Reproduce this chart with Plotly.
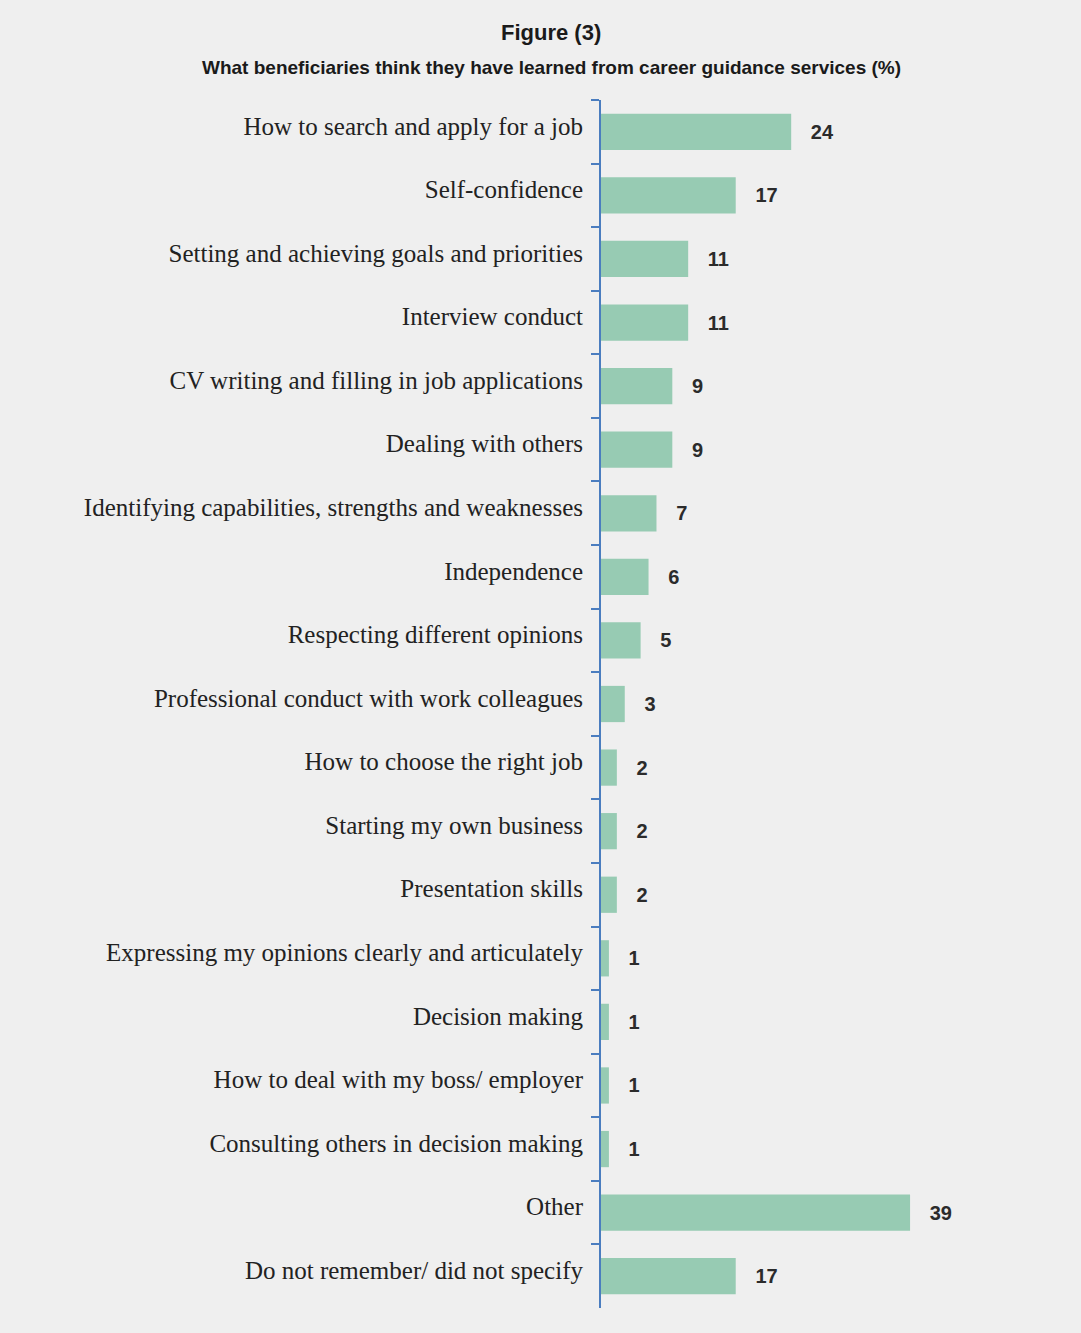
import plotly.graph_objects as go

categories = [
    "How to search and apply for a job",
    "Self-confidence",
    "Setting and achieving goals and priorities",
    "Interview conduct",
    "CV writing and filling in job applications",
    "Dealing with others",
    "Identifying capabilities, strengths and weaknesses",
    "Independence",
    "Respecting different opinions",
    "Professional conduct with work colleagues",
    "How to choose the right job",
    "Starting my own business",
    "Presentation skills",
    "Expressing my opinions clearly and articulately",
    "Decision making",
    "How to deal with my boss/ employer",
    "Consulting others in decision making",
    "Other",
    "Do not remember/ did not specify",
]
values = [24, 17, 11, 11, 9, 9, 7, 6, 5, 3, 2, 2, 2, 1, 1, 1, 1, 39, 17]

title_main = "Figure (3)"
title_sub = "What beneficiaries think they have learned from career guidance services (%)"

BG = "#efefef"
BAR = "#97cbb3"
AXIS = "#4a7dbf"
TITLE_FONT = "Liberation Sans Narrow, Liberation Sans, Arial, sans-serif"

fig = go.Figure(
    go.Bar(
        x=values,
        y=categories,
        orientation="h",
        marker=dict(color=BAR, line=dict(width=0)),
        text=values,
        texttemplate="   %{x}",
        textposition="outside",
        cliponaxis=False,
        textfont=dict(family=TITLE_FONT, size=20, color="#2b2b2b", weight="bold"),
        width=0.57,
    )
)

fig.update_layout(
    width=1081,
    height=1333,
    paper_bgcolor=BG,
    plot_bgcolor=BG,
    margin=dict(l=601, r=60, t=100, b=25),
    showlegend=False,
    xaxis=dict(range=[0, 53], visible=False, showgrid=False, zeroline=False),
    yaxis=dict(
        categoryorder="array",
        categoryarray=categories,
        autorange="reversed",
        showline=True,
        linecolor=AXIS,
        linewidth=2,
        ticks="outside",
        tickson="boundaries",
        ticklen=8,
        tickwidth=2,
        tickcolor=AXIS,
        showgrid=False,
        zeroline=False,
        ticklabelstandoff=11,
        ticklabelshift=6,
        tickfont=dict(family="Liberation Serif, DejaVu Serif, serif", size=25, color="#222222"),
    ),
    annotations=[
        dict(
            text=f"<b>{title_main}</b>",
            xref="paper", yref="paper", x=-0.119, y=(1333 - 25 - 32) / 1208,
            xanchor="center", yanchor="middle", showarrow=False,
            font=dict(family=TITLE_FONT, size=22, color="#1a1a1a"),
        ),
        dict(
            text=f"<b>{title_sub}</b>",
            xref="paper", yref="paper", x=-0.119, y=(1333 - 25 - 67) / 1208,
            xanchor="center", yanchor="middle", showarrow=False,
            font=dict(family=TITLE_FONT, size=19, color="#1a1a1a"),
        ),
    ],
)

fig.write_html("out.html")
